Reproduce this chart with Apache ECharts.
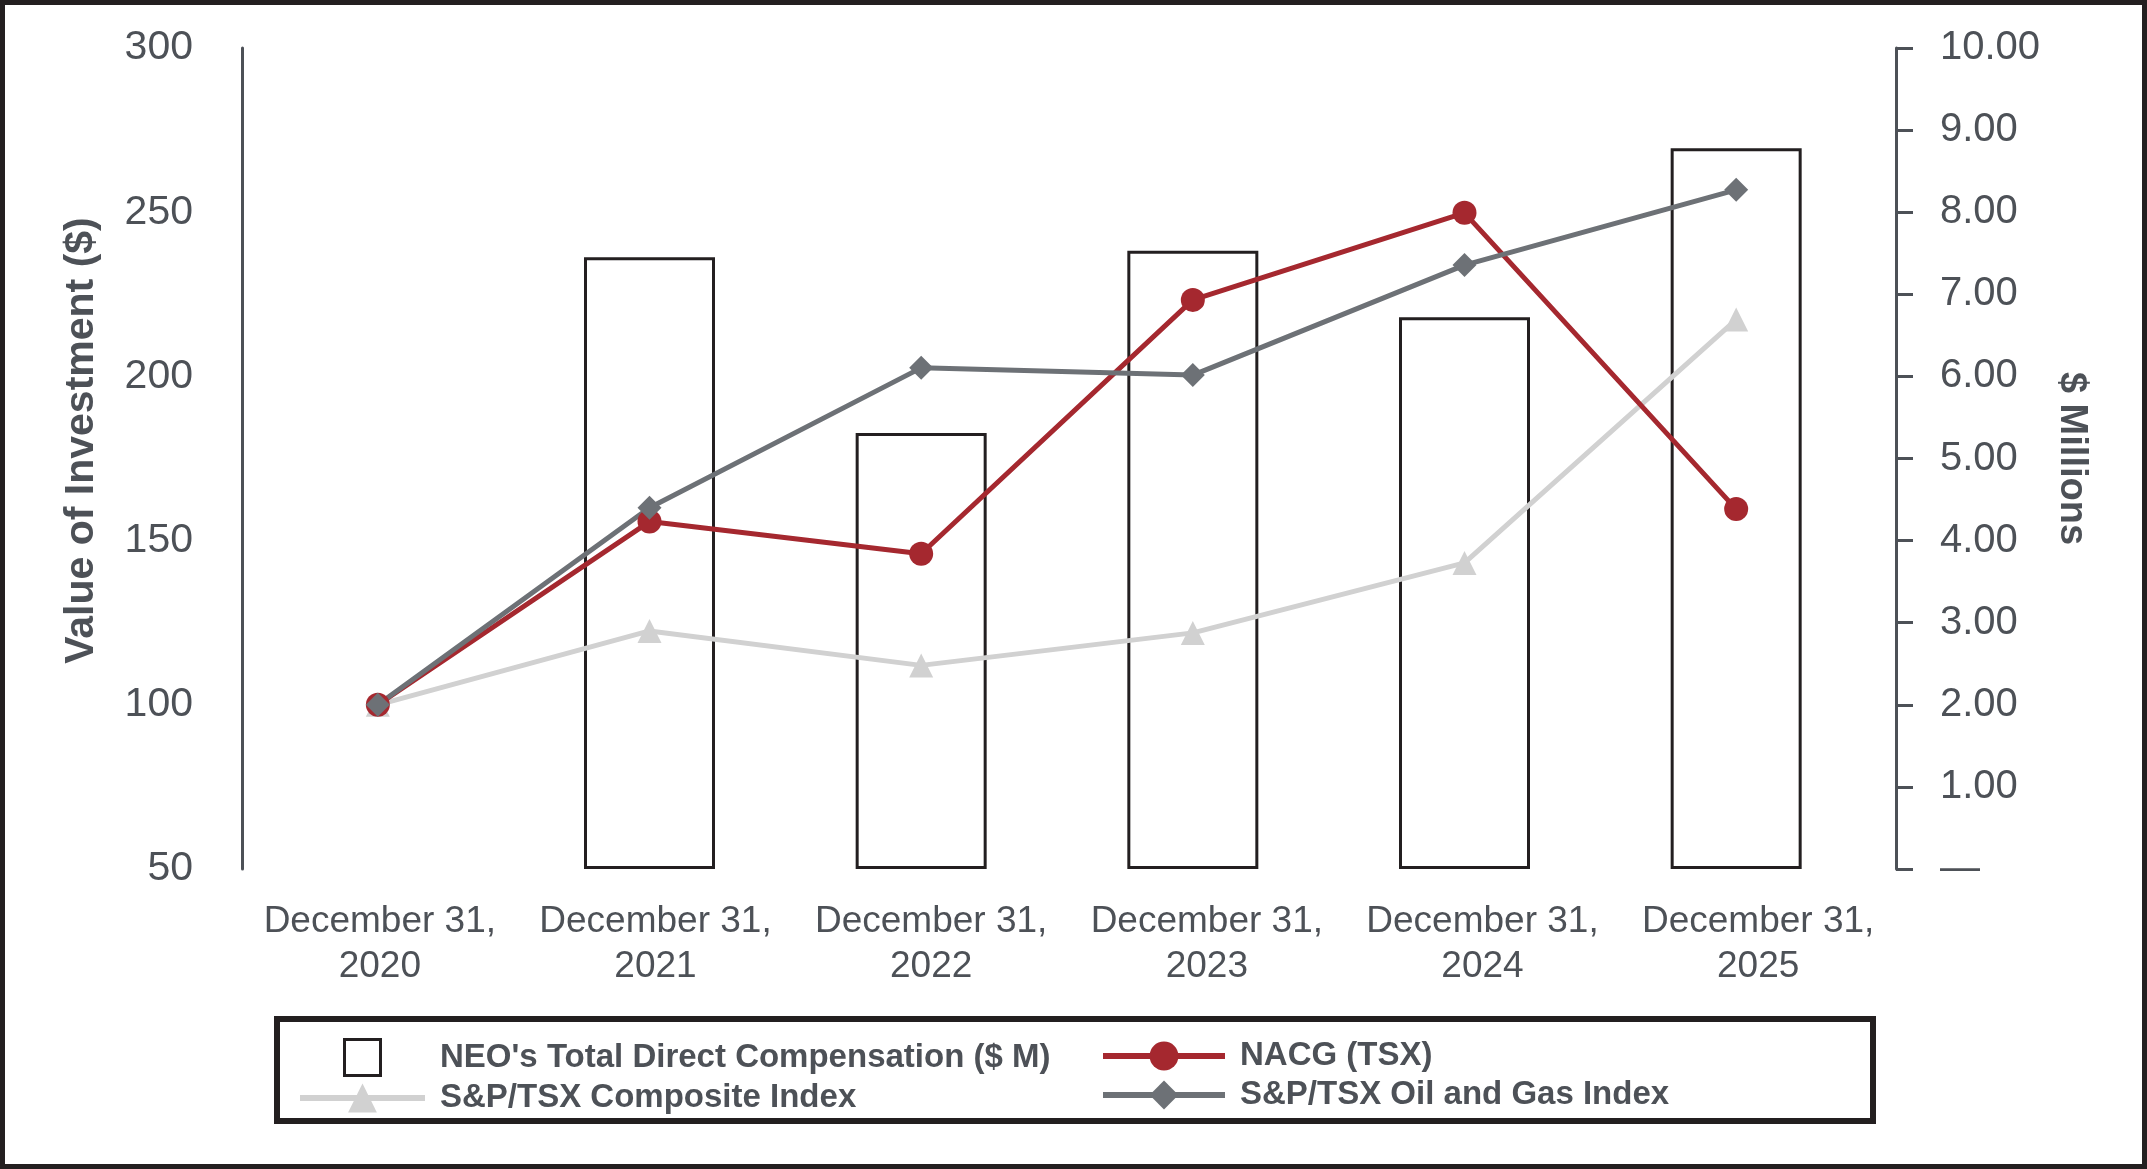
<!DOCTYPE html>
<html>
<head>
<meta charset="utf-8">
<script src="https://cdn.jsdelivr.net/npm/echarts@6/dist/echarts.min.js"></script>
<style>
  html, body { margin: 0; padding: 0; background: #fff; }
  #chart { width: 2147px; height: 1169px; }
</style>
</head>
<body>
<div id="chart"></div>
<script>
// categories and values
const years = ["December 31,\n2020", "December 31,\n2021", "December 31,\n2022",
  "December 31,\n2023", "December 31,\n2024", "December 31,\n2025"];
const neoComp = [null, 7.45, 5.31, 7.53, 6.72, 8.78];      // $ Millions (right axis)
const nacg = [100, 155.8, 146, 223.3, 249.8, 159.6];
const composite = [100, 122.5, 112, 121.9, 143.2, 217.3];
const oilGas = [100, 160, 202.6, 200.4, 233.9, 256.8];

const textColor = "#4d5157";
const font = "'Liberation Sans', Arial, sans-serif";

const chart = echarts.init(document.getElementById("chart"));

const option = {
  backgroundColor: "#fff",
  animation: false,
  grid: [
    { left: 242, right: 275, top: 48, bottom: 300, containLabel: false },
    // label row spans up to the right axis, like the original
    { left: 242, right: 251, top: 48, bottom: 300, containLabel: false }
  ],
  xAxis: [
    {
      type: "category",
      data: years,
      boundaryGap: true,
      axisLine: { show: false },
      axisTick: { show: false },
      axisLabel: { show: false }
    },
    {
      type: "category",
      gridIndex: 1,
      data: years,
      boundaryGap: true,
      axisLine: { show: false },
      axisTick: { show: false },
      axisLabel: {
        interval: 0,
        color: textColor, fontFamily: font, fontSize: 37, lineHeight: 45, margin: 30
      }
    }
  ],
  yAxis: [
    {
      type: "value",
      min: 50, max: 300, interval: 50,
      name: "Value of Investment ($)",
      nameLocation: "middle",
      nameGap: 140,
      nameTextStyle: {
        color: textColor, fontFamily: font, fontSize: 41, fontWeight: "bold",
        padding: [0, 0, 0, 36]
      },
      axisLine: { show: true, lineStyle: { color: textColor, width: 3 } },
      axisTick: { show: false },
      splitLine: { show: false },
      axisLabel: { color: textColor, fontFamily: font, fontSize: 41, margin: 49 }
    },
    {
      type: "value",
      position: "right",
      offset: 24,
      min: 0, max: 10, interval: 1,
      name: "$ Millions",
      nameLocation: "middle",
      nameRotate: -90,
      nameGap: 156,
      nameTextStyle: { color: textColor, fontFamily: font, fontSize: 38, fontWeight: "bold" },
      axisLine: { show: true, lineStyle: { color: textColor, width: 3 } },
      axisTick: { show: true, inside: false, length: 17, lineStyle: { color: textColor, width: 3 } },
      splitLine: { show: false },
      axisLabel: {
        color: textColor, fontFamily: font, fontSize: 40, margin: 44,
        formatter: v => (v === 0 ? "\u2014" : v.toFixed(2))
      }
    },
    { type: "value", gridIndex: 1, show: false }
  ],
  legend: [
    {
      left: 297, top: 1038, orient: "vertical", padding: 0,
      itemWidth: 125, itemHeight: 36, itemGap: 3,
      textStyle: {
        color: textColor, fontFamily: font, fontSize: 33, fontWeight: "bold",
        lineHeight: 36, padding: [0, 0, 0, 10]
      },
      lineStyle: { width: 6 },
      data: [
        {
          name: "NEO's Total Direct Compensation ($ M)",
          icon: "path://M0,0H10V10H0Z",
          itemStyle: { color: "#fff", borderColor: "#231f20", borderWidth: 3 }
        },
        { name: "S&P/TSX Composite Index" }
      ]
    },
    {
      left: 1100, top: 1038, orient: "vertical", padding: 0,
      itemWidth: 122, itemHeight: 36, itemGap: 3,
      textStyle: {
        color: textColor, fontFamily: font, fontSize: 33, fontWeight: "bold",
        lineHeight: 36, padding: [0, 0, 0, 10]
      },
      lineStyle: { width: 6 },
      data: [{ name: "NACG (TSX)" }, { name: "S&P/TSX Oil and Gas Index" }]
    }
  ],
  graphic: [
    {
      type: "rect", silent: true,
      shape: { x: 2.5, y: 2.5, width: 2142, height: 1164 },
      style: { fill: "none", stroke: "#231f20", lineWidth: 5 }
    },
    {
      type: "rect", silent: true,
      shape: { x: 277, y: 1019, width: 1596, height: 102 },
      style: { fill: "none", stroke: "#231f20", lineWidth: 6 }
    }
  ],
  series: [
    {
      name: "NEO's Total Direct Compensation ($ M)",
      type: "bar",
      yAxisIndex: 1,
      data: neoComp,
      barWidth: 131,
      itemStyle: { color: "#fff", borderColor: "#231f20", borderWidth: 3 }
    },
    {
      name: "S&P/TSX Composite Index",
      type: "line",
      data: composite,
      symbol: "triangle",
      symbolSize: [24, 24],
      lineStyle: { color: "#d1d1d1", width: 5 },
      itemStyle: { color: "#d1d1d1" }
    },
    {
      name: "NACG (TSX)",
      type: "line",
      data: nacg,
      symbol: "circle",
      symbolSize: 24,
      lineStyle: { color: "#a5282f", width: 5 },
      itemStyle: { color: "#a5282f" }
    },
    {
      name: "S&P/TSX Oil and Gas Index",
      type: "line",
      data: oilGas,
      symbol: "diamond",
      symbolSize: 24,
      lineStyle: { color: "#6d7176", width: 5 },
      itemStyle: { color: "#6d7176" }
    }
  ]
};

chart.setOption(option);
</script>
</body>
</html>
